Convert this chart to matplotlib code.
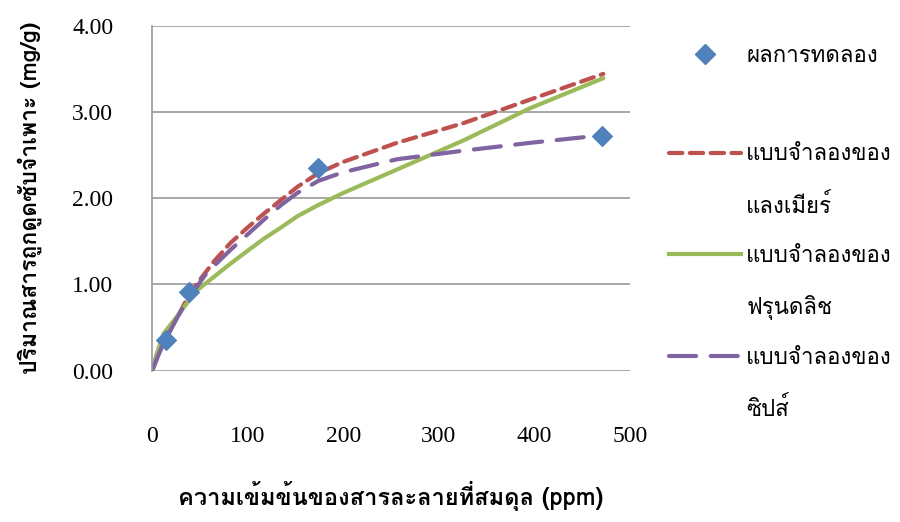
import matplotlib
matplotlib.use("Agg")
import matplotlib.pyplot as plt
from matplotlib import font_manager as fm
from matplotlib.ft2font import FT2Font
from matplotlib.lines import Line2D

# experimental points
exp_x = [15, 39, 174, 471]
exp_y = [0.36, 0.91, 2.35, 2.72]

# model curves
lang_x = [0, 10, 23, 35, 47, 65, 82, 100, 117, 135, 152, 174, 200, 256, 326, 395, 472]
lang_y = [0, 0.28, 0.55, 0.80, 1.01, 1.27, 1.48, 1.66, 1.82, 1.98, 2.13, 2.29, 2.42, 2.64, 2.87, 3.14, 3.44]

freu_x = [0, 5, 12, 22, 35, 47, 65, 82, 100, 117, 135, 152, 174, 200, 256, 326, 395, 472]
freu_y = [0, 0.20, 0.43, 0.57, 0.76, 0.93, 1.09, 1.24, 1.39, 1.53, 1.66, 1.79, 1.92, 2.06, 2.33, 2.67, 3.04, 3.39]

sips_x = [0, 10, 23, 37, 57, 82, 100, 117, 135, 152, 174, 200, 256, 326, 395, 472]
sips_y = [0, 0.27, 0.55, 0.82, 1.13, 1.40, 1.58, 1.75, 1.92, 2.06, 2.20, 2.30, 2.45, 2.55, 2.64, 2.73]

# legend rows (second line of each model name gets its own row)
labels = ["ผลการทดลอง", " ", "แบบจำลองของ", "แลงเมียร์",
          "แบบจำลองของ", "ฟรุนดลิช", "แบบจำลองของ", "ซิปส์"]
xlabel = "ความเข้มข้นของสารละลายที่สมดุล (ppm)"
ylabel = "ปริมาณสารถูกดูดซับจำเพาะ (mg/g)"

# find any installed font that has Thai glyphs
thai = None
for f in fm.fontManager.ttflist:
    try:
        if 0x0E01 in FT2Font(f.fname).get_charmap():
            thai = f.name
            break
    except Exception:
        pass
fams = [thai, "Liberation Serif", "DejaVu Sans"] if thai else ["Liberation Serif", "DejaVu Sans"]

blue, red, green, purple = "#4F81BD", "#C0504D", "#9BBB59", "#8064A2"

fig = plt.figure(figsize=(9, 5.22), dpi=100)
ax = fig.add_axes([0.169, 0.29, 0.531, 0.661])

ax.plot(lang_x, lang_y, color=red, lw=3, dashes=(3.2, 1.8), dash_capstyle="round")
ax.plot(freu_x, freu_y, color=green, lw=3, solid_capstyle="round")
ax.plot(sips_x, sips_y, color=purple, lw=3, dashes=(6.5, 3.5), dash_capstyle="round")
ax.scatter(exp_x, exp_y, marker="D", s=100, color=blue, zorder=5)

ax.set_xlim(0, 500)
ax.set_ylim(0, 4)
ax.set_yticks([0, 1, 2, 3, 4])
ax.set_yticklabels(["0.00", "1.00", "2.00", "3.00", "4.00"])
ax.set_xticks([0, 100, 200, 300, 400, 500])
ax.grid(axis="y", color="#999999", lw=1.2)
ax.set_axisbelow(True)
for s in ["top", "right", "bottom"]:
    ax.spines[s].set_visible(False)
ax.spines["left"].set_color("#999999")
ax.spines["left"].set_linewidth(1.2)
ax.tick_params(length=0, labelsize=17)
ax.tick_params(axis="y", pad=28)
ax.tick_params(axis="x", pad=40)
for t in ax.get_xticklabels() + ax.get_yticklabels():
    t.set_family("Liberation Serif")

ax.set_xlabel(xlabel, family=fams, fontsize=17, fontweight="bold", labelpad=24)
ax.set_ylabel(ylabel, family=fams, fontsize=16.5, fontweight="bold", labelpad=22)

blank = Line2D([], [], ls="none")
handles = [
    Line2D([], [], ls="none", marker="D", ms=10, color=blue),
    blank,
    Line2D([], [], color=red, lw=3, dashes=(3.2, 1.8), dash_capstyle="round"),
    blank,
    Line2D([], [], color=green, lw=3),
    blank,
    Line2D([], [], color=purple, lw=3, dashes=(6.5, 3.5), dash_capstyle="round"),
    blank,
]
leg = ax.legend(handles, labels, loc="upper left", bbox_to_anchor=(1.062, 0.967),
                frameon=False, handlelength=3.25, handletextpad=0.25,
                labelspacing=1.27, borderaxespad=0, prop={"family": fams, "size": 16})

fig.savefig("out.png", dpi=100)
